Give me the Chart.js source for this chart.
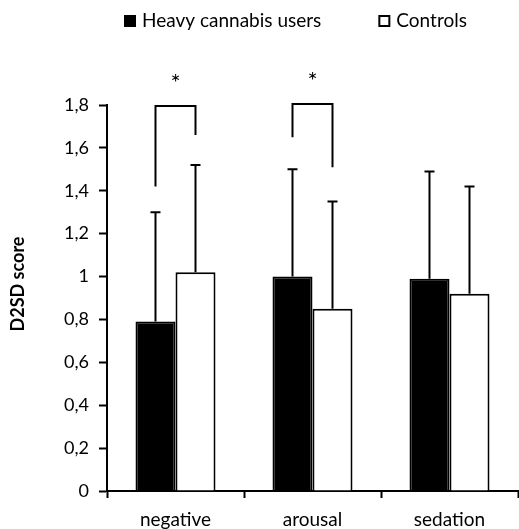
<!DOCTYPE html>
<html>
<head>
<meta charset="utf-8">
<script src="https://cdn.jsdelivr.net/npm/chart.js@4"></script>
<style>
  html, body { margin: 0; padding: 0; background: #fff; }
  #wrap { width: 519px; height: 529px; }
</style>
</head>
<body>
<div id="wrap"><canvas id="chart"></canvas></div>
<script>
// Data
const categories = ['negative', 'arousal', 'sedation'];
const seriesNames = ['Heavy cannabis users', 'Controls'];
const heavyMeans = [0.79, 1.00, 0.99];
const heavySD = [0.51, 0.50, 0.50];
const controlMeans = [1.02, 0.85, 0.92];
const controlSD = [0.50, 0.50, 0.50];

// Significance brackets (category index, start of left leg, bar top, end of right leg, asterisk level)
const bracketCategories = [0, 1];
const bracketLeftFrom = [1.42, 1.65];
const bracketTop = [1.795, 1.805];
const bracketRightTo = [1.66, 1.51];
const starLevel = [1.93, 1.94];

const yTitle = 'D2SD score';
const FONT = 'Lato, "Open Sans", sans-serif';

// Error bars, brackets, asterisks, legend and axis title
const overlay = {
    id: 'overlay',
    afterDatasetsDraw(chart) {
        const ctx = chart.ctx;
        const y = chart.scales.y;
        const sds = [heavySD, controlSD];
        ctx.save();
        ctx.strokeStyle = '#000';
        ctx.lineWidth = 2;

        sds.forEach((sd, di) => {
            const meta = chart.getDatasetMeta(di);
            meta.data.forEach((bar, i) => {
                const top = y.getPixelForValue(chart.data.datasets[di].data[i] + sd[i]);
                ctx.beginPath();
                ctx.moveTo(bar.x, bar.y);
                ctx.lineTo(bar.x, top);
                ctx.moveTo(bar.x - 5, top);
                ctx.lineTo(bar.x + 5, top);
                ctx.stroke();
            });
        });

        ctx.font = '24px ' + FONT;
        ctx.fillStyle = '#000';
        ctx.textAlign = 'center';
        ctx.textBaseline = 'middle';
        bracketCategories.forEach((c, k) => {
            const left = chart.getDatasetMeta(0).data[c].x;
            const right = chart.getDatasetMeta(1).data[c].x;
            const topPx = y.getPixelForValue(bracketTop[k]);
            ctx.beginPath();
            ctx.moveTo(left, y.getPixelForValue(bracketLeftFrom[k]));
            ctx.lineTo(left, topPx);
            ctx.lineTo(right, topPx);
            ctx.lineTo(right, y.getPixelForValue(bracketRightTo[k]));
            ctx.stroke();
            ctx.fillText('*', (left + right) / 2, y.getPixelForValue(starLevel[k]) + 6);
        });

        // legend
        const fills = ['#000', '#fff'];
        let x = 124;
        ctx.font = '19px ' + FONT;
        ctx.textAlign = 'left';
        ctx.lineWidth = 2;
        seriesNames.forEach((name, i) => {
            ctx.fillStyle = fills[i];
            ctx.fillRect(x, 15, 12, 12);
            ctx.strokeRect(x + 1, 16, 10, 10);
            ctx.fillStyle = '#000';
            ctx.fillText(name, x + 18, 21);
            x += 18 + ctx.measureText(name).width + 57;
        });

        // y axis title
        ctx.translate(18, 284);
        ctx.rotate(-Math.PI / 2);
        ctx.textAlign = 'center';
        ctx.font = 'bold 18px ' + FONT;
        ctx.fillText(yTitle, 0, 0);
        ctx.restore();
    }
};

const ctx = document.getElementById('chart').getContext('2d');
new Chart(ctx, {
    type: 'bar',
    data: {
        labels: categories,
        datasets: [{
            label: seriesNames[0],
            data: heavyMeans,
            backgroundColor: '#000',
            borderColor: '#000',
            borderWidth: 2
        }, {
            label: seriesNames[1],
            data: controlMeans,
            backgroundColor: '#fff',
            borderColor: '#000',
            borderWidth: 2
        }]
    },
    options: {
        responsive: true,
        maintainAspectRatio: false,
        animation: false,
        layout: { padding: { top: 105, right: 1, left: 0, bottom: 0 } },
        datasets: {
            bar: { categoryPercentage: 0.584, barPercentage: 1.0 }
        },
        plugins: {
            legend: { display: false },
            tooltip: { enabled: false }
        },
        scales: {
            x: {
                grid: {
                    display: true,
                    drawOnChartArea: false,
                    drawTicks: true,
                    tickLength: 7,
                    tickWidth: 2,
                    color: '#000'
                },
                border: { color: '#000', width: 2 },
                ticks: {
                    color: '#000',
                    padding: 10,
                    font: { family: FONT, size: 19 }
                },
                afterFit: scale => { scale.height = 38; }
            },
            y: {
                min: 0,
                max: 1.8,
                grid: {
                    display: true,
                    drawOnChartArea: false,
                    drawTicks: true,
                    tickLength: 8,
                    tickWidth: 2,
                    color: '#000'
                },
                border: { color: '#000', width: 2 },
                ticks: {
                    stepSize: 0.2,
                    color: '#000',
                    padding: 10,
                    font: { family: FONT, size: 18 },
                    callback: v => String(Number(v.toFixed(1))).replace('.', ',')
                },
                afterFit: scale => { scale.width = 107; }
            }
        }
    },
    plugins: [overlay]
});
</script>
</body>
</html>
